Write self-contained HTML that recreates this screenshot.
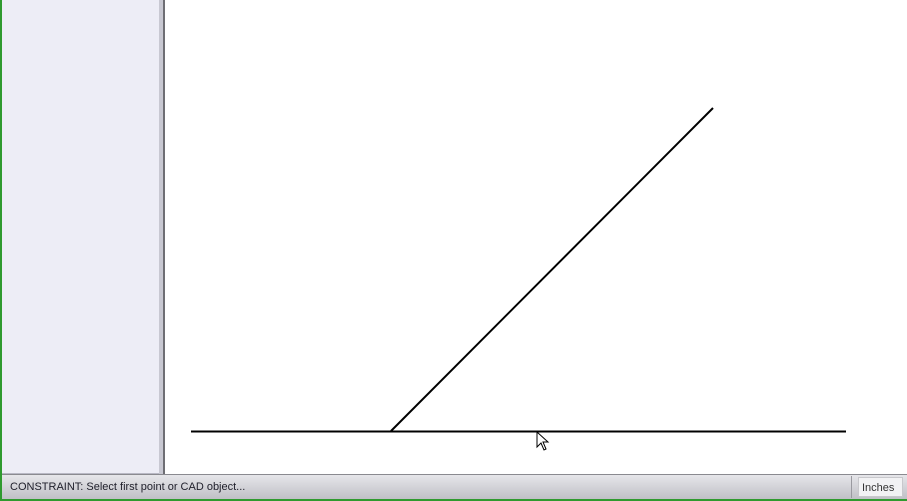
<!DOCTYPE html>
<html><head><meta charset="utf-8"><style>
body{margin:0;width:907px;height:501px;overflow:hidden;position:relative;background:#fff;font-family:"Liberation Sans",sans-serif}
div{position:absolute;box-sizing:border-box}
</style></head><body>
<div style="left:0;top:0;width:2px;height:501px;background:#2f9a2f"></div>
<div style="left:2px;top:0;width:157px;height:474px;background:#ededf6;border-bottom:1px solid #b8b8c4"></div>
<div style="left:159px;top:0;width:6px;height:474px;background:#c8c8d2;border-right:2px solid #6e6e74"></div>
<svg style="position:absolute;left:0;top:0" width="907" height="474">
<line x1="191" y1="431.5" x2="846" y2="431.5" stroke="#000" stroke-width="2"/>
<line x1="391" y1="431" x2="713" y2="108" stroke="#000" stroke-width="2"/>
<path d="M537,432 L537,447 L541,443 L544,450 L546,449 L543,442 L548,442 Z" fill="#fff" stroke="#000" stroke-width="1"/>
</svg>
<div style="left:2px;top:474px;width:905px;height:25px;background:linear-gradient(#e6e6ea,#c0c0c6);border-top:1px solid #8a8a90"></div>
<div style="left:10px;top:481px;font-size:11px;color:#1e1e2a">CONSTRAINT: Select first point or CAD object...</div>
<div style="left:851px;top:476px;width:1px;height:22px;background:#9a9aa0"></div>
<div style="left:858px;top:477px;width:45px;height:20px;background:#f2f2f4;border:1px solid #c8c8cc;font-size:11px;color:#333;padding:4px 0 0 3px">Inches</div>
<div style="left:0;top:499px;width:907px;height:2px;background:#2f9a2f"></div>
</body></html>
